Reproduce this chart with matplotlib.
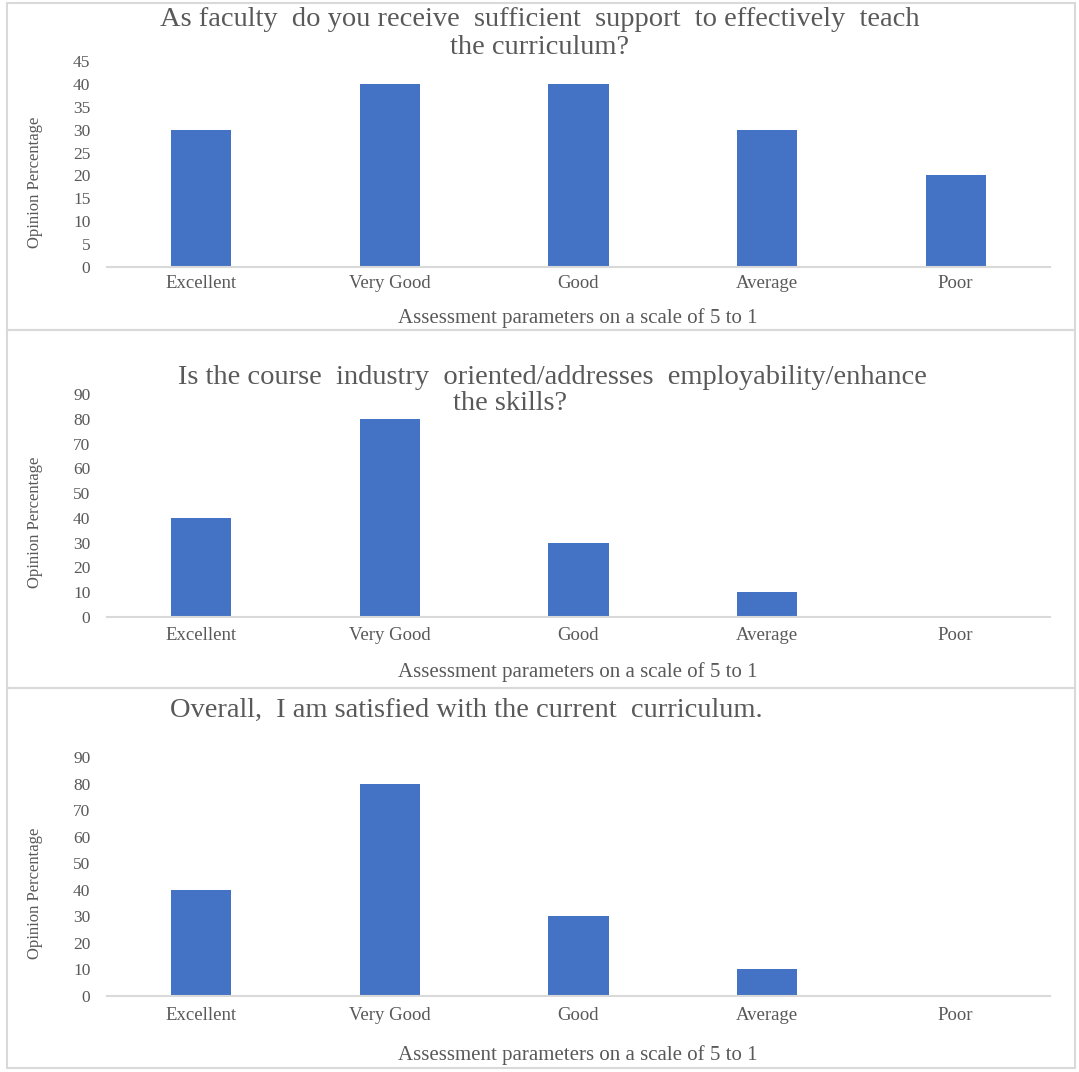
import matplotlib
matplotlib.use("Agg")
import matplotlib.pyplot as plt
from matplotlib.patches import Rectangle

plt.rcParams['font.family'] = ['Liberation Serif', 'DejaVu Serif']

categories = ["Excellent", "Very Good", "Good", "Average", "Poor"]
support_values = [30, 40, 40, 30, 20]
industry_values = [40, 80, 30, 10, 0]
satisfied_values = [40, 80, 30, 10, 0]

support_ticks = list(range(0, 50, 5))
industry_ticks = list(range(0, 100, 10))
satisfied_ticks = list(range(0, 100, 10))

support_title = ["As faculty  do you receive  sufficient  support  to effectively  teach",
                 "the curriculum?"]
industry_title = ["Is the course  industry  oriented/addresses  employability/enhance",
                  "the skills?"]
satisfied_title = ["Overall,  I am satisfied with the current  curriculum."]

x_label = "Assessment parameters on a scale of 5 to 1"
y_label = "Opinion Percentage"

BAR = "#4472C4"
TXT = "#595959"
EDGE = "#D9D9D9"

W, H = 1079, 1072
fig = plt.figure(figsize=(W / 100, H / 100), dpi=100)


def fx(px):
    return px / W


def fy(py):
    return 1 - py / H


def panel(box, axbox, values, ticks, title_lines, title_y, title_x, tick_y, xlab_y, ylab_y):
    # outer frame of the panel
    x0, y0, x1, y1 = box
    fig.patches.append(Rectangle((fx(x0), fy(y1)), fx(x1 - x0), (y1 - y0) / H,
                                 transform=fig.transFigure, fill=False,
                                 edgecolor=EDGE, linewidth=1.5))
    l, t, r, b = axbox
    ax = fig.add_axes([fx(l), fy(b), fx(r - l), (b - t) / H])
    ax.bar(range(len(categories)), values, width=0.32, color=BAR)
    ax.set_xlim(-0.5, len(categories) - 0.5)
    ax.set_ylim(ticks[0], ticks[-1])
    ax.set_yticks(ticks)
    ax.set_yticklabels([str(v) for v in ticks], fontsize=12.5, color=TXT)
    ax.set_xticks(range(len(categories)))
    ax.set_xticklabels([])
    for i, c in enumerate(categories):
        fig.text(fx(l + (r - l) * (i + 0.5) / len(categories)), fy(tick_y), c,
                 ha="center", va="center", fontsize=13.5, color=TXT)
    ax.tick_params(length=0, pad=12)
    for s in ["top", "left", "right"]:
        ax.spines[s].set_visible(False)
    ax.spines["bottom"].set_color(EDGE)
    ax.spines["bottom"].set_linewidth(1.5)
    ax.patch.set_alpha(0)
    for (cx, line), ty in zip(zip(title_x, title_lines), title_y):
        fig.text(fx(cx), fy(ty), line, ha="center", va="center",
                 fontsize=20.5, color=TXT)
    fig.text(fx(578), fy(xlab_y), x_label, ha="center", va="center",
             fontsize=15, color=TXT)
    fig.text(fx(35), fy(ylab_y), y_label, ha="center", va="center",
             rotation=90, fontsize=12, color=TXT)
    return ax


panel((7, 3, 1075, 330), (107, 61, 1050, 267), support_values, support_ticks,
      support_title, [20, 47], [540, 540], 283, 318, 182)
panel((7, 330, 1075, 688), (107, 394, 1050, 617), industry_values, industry_ticks,
      industry_title, [378, 404], [552, 510], 635, 672, 522)
panel((7, 688, 1075, 1068), (107, 757, 1050, 996), satisfied_values, satisfied_ticks,
      satisfied_title, [710], [466], 1016, 1055, 893)

fig.savefig("out.png", dpi=100, facecolor="white")
